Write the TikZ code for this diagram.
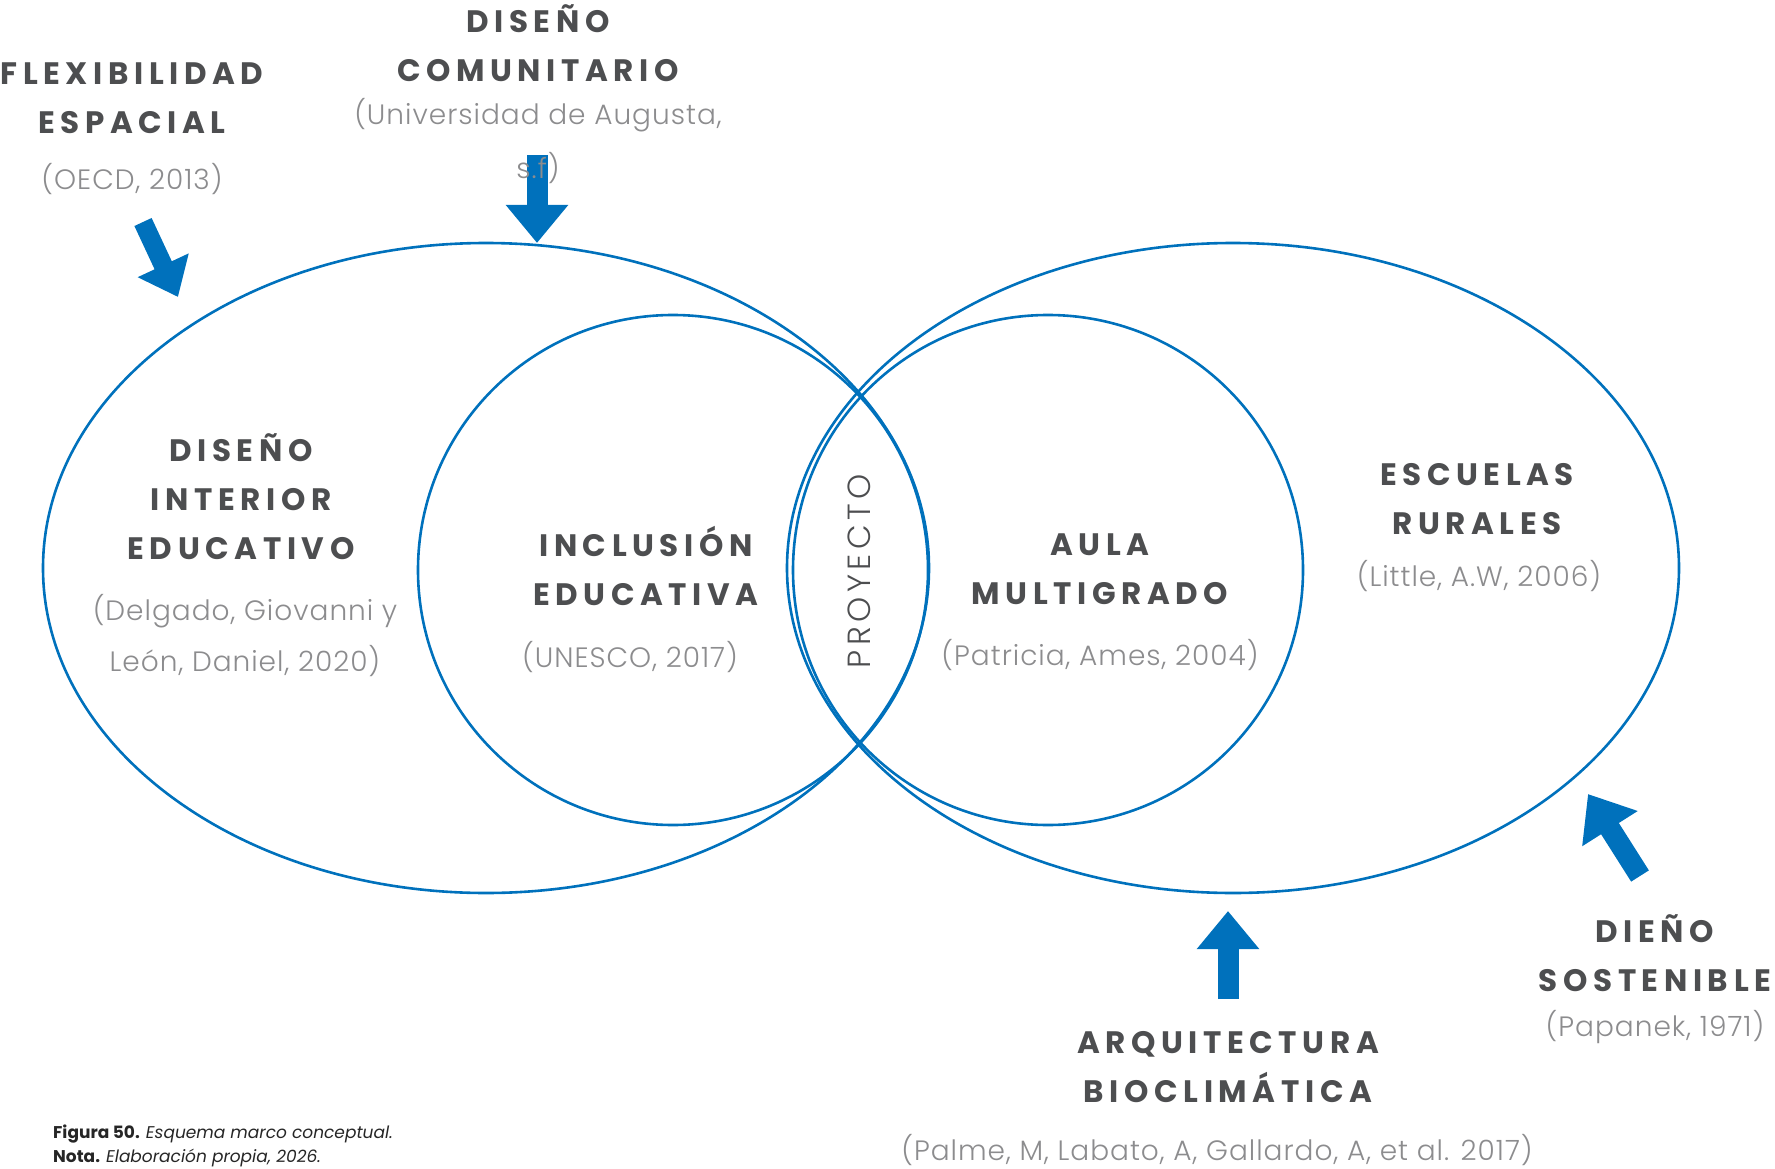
\documentclass[tikz,border=0pt]{standalone}
\usepackage{fontspec}
\setmainfont{Poppins}
\newfontfamily\headfont{Poppins}[LetterSpace=18]
\newfontfamily\citefont{Poppins Light}[LetterSpace=3.5]
\newfontfamily\lensfont{Poppins Light}[LetterSpace=14]
\usetikzlibrary{positioning,arrows.meta}
\definecolor{marcoblue}{HTML}{0071BC}
\definecolor{headgray}{HTML}{4D4E50}
\definecolor{citegray}{HTML}{8C8C8E}

\begin{document}
\begin{tikzpicture}[x=1pt, y=-1pt,
  ring/.style={draw=marcoblue, line width=2.6pt},
  head/.style={font=\headfont\bfseries\fontsize{31}{49}\selectfont, text=headgray, align=center, inner sep=0pt},
  cite/.style={font=\citefont\fontsize{28}{51}\selectfont, text=citegray, align=center, inner sep=0pt},
  push/.style={draw=marcoblue, line width=21pt, -{Triangle[length=38pt, width=60pt]}}]
  \useasboundingbox (0,0) rectangle (1775,1169);

  % the four rings
  \draw[ring] (486,568) ellipse [x radius=443pt, y radius=325pt];
  \draw[ring] (673,570) circle [radius=255pt];
  \draw[ring] (1048,570) circle [radius=255pt];
  \draw[ring] (1233,568) ellipse [x radius=446pt, y radius=325pt];

  % arrows pointing at the rings
  \coordinate (flexTail) at (143,222);
  \coordinate (flexTip) at (178,297);
  \coordinate (comuTail) at (537,155);
  \coordinate (comuTip) at (537,243);
  \coordinate (bioTail) at (1228,999);
  \coordinate (bioTip) at (1228,911);
  \coordinate (sostTail) at (1640,876);
  \coordinate (sostTip) at (1588,794);
  \draw[push, line width=19pt, -{Triangle[length=35pt, width=54pt]}] (flexTail) -- (flexTip);
  \draw[push] (comuTail) -- (comuTip);
  \draw[push] (bioTail) -- (bioTip);
  \draw[push, -{Triangle[length=41pt, width=63pt]}] (sostTail) -- (sostTip);

  % outside labels
  \node[head] (flex) at (132,98) {FLEXIBILIDAD\\ESPACIAL};
  \node[cite, below=29pt of flex] (flexref) {(OECD, 2013)};
  \node[head] (comu) at (538,43) {DISEÑO\\COMUNITARIO};
  \node[cite, below=16pt of comu, font=\citefont\fontsize{28}{54}\selectfont] (comuref) {(Universidad de Augusta,\\s.f)};
  \node[head] (soste) at (1655,953) {DIEÑO\\SOSTENIBLE};
  \node[cite, below=18pt of soste] (sosteref) {(Papanek, 1971)};
  \node[head] (bioclim) at (1228,1067) {ARQUITECTURA\\BIOCLIMÁTICA};
  \node[cite, below=31pt of bioclim, xshift=-11pt] (bioclimref) {(Palme, M, Labato, A, Gallardo, A, et al. 2017)};

  % inside labels
  \node[head] (interior) at (241,497) {DISEÑO\\INTERIOR\\EDUCATIVO};
  \node[cite, below=34pt of interior, xshift=4pt] (interiorref) {(Delgado, Giovanni y\\León, Daniel, 2020)};
  \node[head] (inclu) at (646,566) {INCLUSIÓN\\EDUCATIVA};
  \node[cite, below=35pt of inclu, xshift=-16pt] (incluref) {(UNESCO, 2017)};
  \node[head] (aula) at (1100,569) {AULA\\MULTIGRADO};
  \node[cite, below=34pt of aula] (aularef) {(Patricia, Ames, 2004)};
  \node[head] (rural) at (1477,499) {ESCUELAS\\RURALES};
  \node[cite, below=25pt of rural, xshift=2pt] (ruralref) {(Little, A.W, 2006)};
  \node[rotate=90, inner sep=0pt, font=\lensfont\fontsize{32}{32}\selectfont, text=headgray] (proyecto) at (859,571) {PROYECTO};

  \node[anchor=west, align=left, inner sep=0pt, font=\fontsize{17}{24}\selectfont, text=black!85] (nota) at (53,1146)
    {\textbf{Figura 50.} \textit{Esquema marco conceptual.}\\\textbf{Nota.} \textit{Elaboración propia, 2026.}};
\end{tikzpicture}
\end{document}
